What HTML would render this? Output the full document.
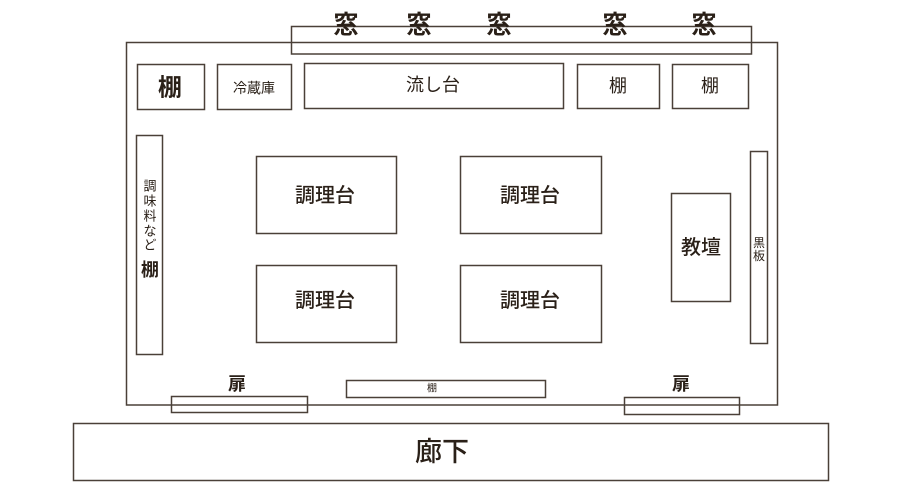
<!DOCTYPE html>
<html><head><meta charset="utf-8"><style>
html,body{margin:0;padding:0;background:#fff;}
svg{display:block;}
text{font-family:"Liberation Sans","Noto Sans CJK JP",sans-serif;fill:#2a2018;text-anchor:middle;dominant-baseline:central;}
</style></head><body>
<svg width="900" height="492" viewBox="0 0 900 492" xmlns="http://www.w3.org/2000/svg">
<g fill="#fff" stroke="#4a4038" stroke-width="1.5">
<rect x="126.5" y="42.5" width="651" height="362.5"/>
<rect x="291.5" y="26.5" width="460" height="27.5" fill="none"/>
<rect x="137.5" y="64.5" width="67" height="45"/>
<rect x="217.5" y="64.5" width="74" height="45"/>
<rect x="304.5" y="63.5" width="259" height="45"/>
<rect x="577.5" y="64.5" width="82" height="44"/>
<rect x="672.5" y="64.5" width="76" height="44"/>
<rect x="136.5" y="135.5" width="26" height="219"/>
<rect x="256.5" y="156.5" width="140" height="77"/>
<rect x="460.5" y="156.5" width="141" height="77"/>
<rect x="256.5" y="265.5" width="140" height="77"/>
<rect x="460.5" y="265.5" width="141" height="77"/>
<rect x="671.5" y="193.5" width="59" height="108"/>
<rect x="750.5" y="151.5" width="17" height="192"/>
<rect x="346.5" y="380.5" width="199" height="17"/>
<rect x="171.5" y="396.5" width="136" height="16" fill="none"/>
<rect x="624.5" y="397.5" width="115" height="17" fill="none"/>
<rect x="73.5" y="423.5" width="755" height="57"/>
</g>
<g font-weight="bold" font-size="25">
<text x="346" y="25">窓</text><text x="419" y="25">窓</text><text x="499" y="25">窓</text><text x="615" y="25">窓</text><text x="704" y="25">窓</text>
</g>
<text x="170" y="88" font-size="24" font-weight="bold">棚</text>
<text x="254" y="88" font-size="14">冷蔵庫</text>
<text x="433" y="85" font-size="18">流し台</text>
<text x="618" y="86" font-size="18">棚</text>
<text x="710" y="86" font-size="18">棚</text>
<g font-size="13"><text x="150" y="186">調</text><text x="150" y="201">味</text><text x="150" y="216">料</text><text x="150" y="231">な</text><text x="150" y="245">ど</text></g>
<text x="150" y="270" font-size="18" font-weight="bold">棚</text>
<g font-size="20" font-weight="500">
<text x="325" y="196">調理台</text><text x="530" y="196">調理台</text>
<text x="325" y="301">調理台</text><text x="530" y="301">調理台</text>
</g>
<text x="701" y="248" font-size="20" font-weight="500">教壇</text>
<text x="759" y="243" font-size="12">黒</text><text x="759" y="256" font-size="12">板</text>
<text x="432" y="389" font-size="10">棚</text>
<text x="237" y="384" font-size="18" font-weight="bold">扉</text>
<text x="681" y="384" font-size="18" font-weight="bold">扉</text>
<text x="442" y="452" font-size="27" font-weight="500">廊下</text>
</svg>
</body></html>
